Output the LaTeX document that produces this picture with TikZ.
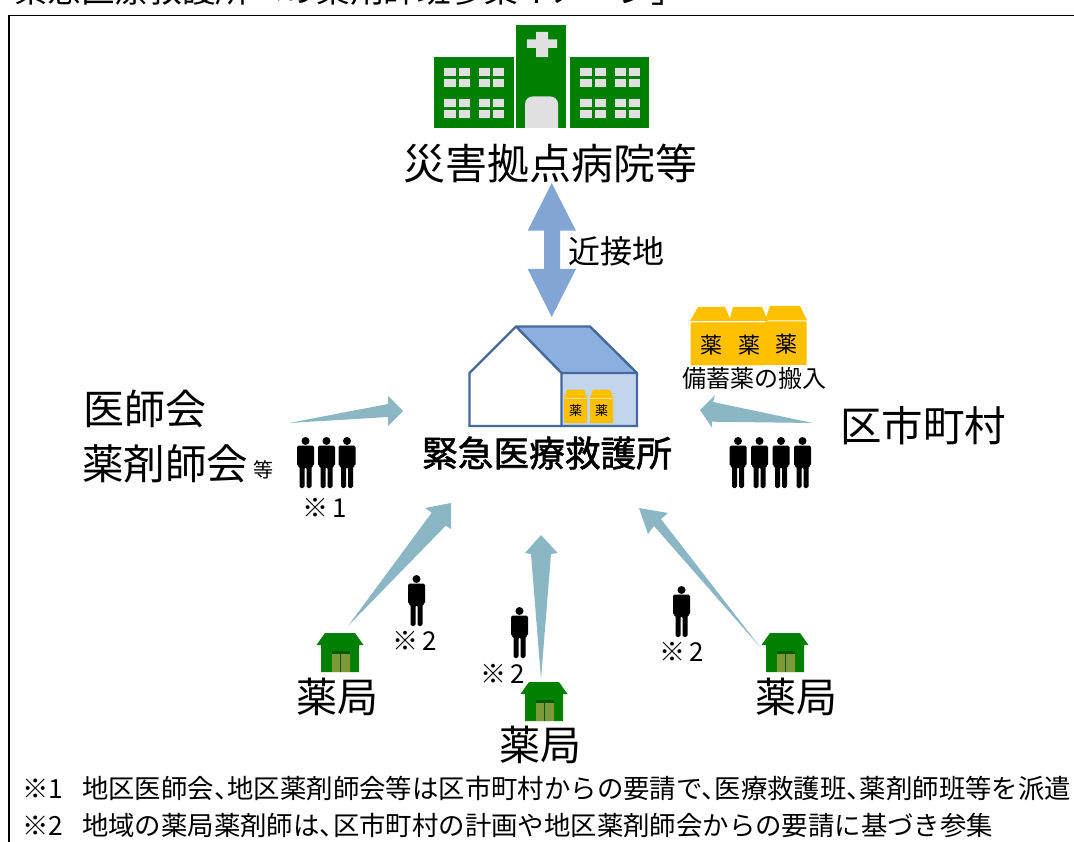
\documentclass[tikz,border=0pt]{standalone}
\usepackage{fontspec}
\setmainfont{Noto Sans CJK JP}
\newfontfamily\medfont[FakeBold=1.6]{Noto Sans CJK JP}
\newcommand{\tc}{、\kern-.5em}
\tikzset{
 lbl/.style={inner sep=0pt,text=black},
 wedge/.style={fill=wedgeblue,draw=none},
 note/.style={lbl,anchor=west,font=\fontsize{26.4}{26.4}\selectfont},
 refmark/.style={lbl,font=\fontsize{26}{26}\selectfont}
}
\definecolor{wedgeblue}{HTML}{8BB6C3}
\definecolor{hgreen}{HTML}{008000}
\definecolor{hgrey}{HTML}{E0E0E0}
\definecolor{roofblue}{HTML}{8CAFDF}
\definecolor{wallblue}{HTML}{C3D5ED}
\definecolor{edgeblue}{HTML}{45699A}
\definecolor{amber}{HTML}{FFC000}
\definecolor{door}{HTML}{7C9A3A}
\definecolor{darrow}{HTML}{83A5D4}
\newcommand{\figman}[3]{\begin{scope}[shift={(#1,#2)},scale=#3/50]
 \fill[black] (0,4) circle (4);
 \fill[black,rounded corners=1.6pt] (-8.5,8.5) -- (8.5,8.5) -- (8.5,29) -- (6,29) -- (6,51) -- (1,51) -- (1,30) -- (-1,30) -- (-1,51) -- (-6,51) -- (-6,29) -- (-8.5,29) -- cycle;
\end{scope}}
\newcommand{\pharm}[2]{\begin{scope}[shift={(#1,#2)}]
 \fill[hgreen] (-15,0) -- (15,0) -- (23.5,12) -- (19,12) -- (19,39) -- (-19,39) -- (-19,12) -- (-23.5,12) -- cycle;
 \fill[hgreen!70!black] (-8.5,18) rectangle (9.5,21);
 \fill[door] (-8.5,21) rectangle (9.5,39);
 \draw[hgreen!70!black,line width=.7pt] (0.5,21) -- (0.5,39);
\end{scope}}
\newcommand{\winblock}[2]{\begin{scope}[shift={(#1,#2)}]
 \foreach \a in {0,14.5,34.5,48.5} \foreach \b in {0,11,31,42}
 \fill[hgrey] (\a,\b) rectangle ++(11.5,8.5);
\end{scope}}
\begin{document}
\begin{tikzpicture}[x=1pt,y=-1pt]
\useasboundingbox (0,0) rectangle (1074,842);
\fill[white] (0,0) rectangle (1074,842);
\begin{scope}
\clip (0,0) rectangle (1074,10);
\node[lbl,anchor=west,font=\fontsize{33.6}{33.6}\selectfont] (title) at (14,-10) {緊急医療救護所への薬剤師班参集イメージ」};
\end{scope}
\draw[black,line width=1.5pt] (1074,15.7) -- (9,15.7) -- (9,842);
% hospital
\fill[hgreen] (434,57.5) rectangle (513.5,128);
\fill[hgreen] (516,25) rectangle (566,128);
\fill[hgreen] (569.5,57.5) rectangle (649,128);
\winblock{444}{68}
\winblock{580}{68}
\fill[hgrey] (536,32) rectangle (548,57) (527,39.5) rectangle (557,48);
\fill[hgrey] (525,128) -- (525,104) arc[start angle=180,end angle=270,radius=7.5] -- (550.5,96.5) arc[start angle=270,end angle=360,radius=7.5] -- (558,128) -- cycle;
\node[lbl,font=\fontsize{42}{42}\selectfont] (hosp) at (550,164) {災害拠点病院等};
% double arrow
\coordinate (up) at (551.7,183);
\coordinate (dn) at (551.7,317);
\fill[darrow] (up) -- (576,230.7) -- (560,230.7) -- (560,269) -- (576,269) -- (dn) -- (527.7,269) -- (544,269) -- (544,230.7) -- (527.7,230.7) -- cycle;
\node[lbl,font=\fontsize{32}{32}\selectfont] (kinsetsu) at (616,251) {近接地};
% building
\coordinate (a) at (469.5,373); \coordinate (b) at (516,326.5);
\coordinate (c) at (590,326.5); \coordinate (d) at (637,373);
\coordinate (e) at (561.5,373); \coordinate (f) at (637,426);
\coordinate (g) at (561.5,426); \coordinate (h) at (469.5,426);
\fill[white] (a)--(b)--(e)--(g)--(h)--cycle;
\fill[wallblue] (e)--(d)--(f)--(g)--cycle;
\fill[roofblue] (b)--(c)--(d)--(e)--cycle;
\draw[edgeblue,line width=2.4pt,line join=miter] (a)--(b)--(c)--(d)--(f)--(h)--cycle (b)--(e)--(g) (e)--(d);
\foreach \x/\n in {564/m1,590/m2}{
 \fill[amber] (\x,423) -- (\x,398) -- (\x+3,389.5) -- (\x+20,389.5) -- (\x+23,398) -- (\x+23,423) -- cycle;
 \draw[white,opacity=.5,line width=.5pt] (\x,398) -- (\x+23,398);
 \node[lbl,font=\fontsize{13}{13}\selectfont] (\n) at (\x+11.5,410.5) {薬};
}
\node[lbl,font=\medfont\fontsize{35.7}{35.7}\selectfont] (kinkyu) at (547,453) {緊急医療救護所};
% stock boxes
\fill[amber] (698,307) -- (725,307) -- (731,321) -- (690,321) -- cycle;
\fill[amber] (733,307) -- (762,307) -- (768,321) -- (729,321) -- cycle;
\fill[amber] (770,306) -- (800,306) -- (807,320.5) -- (765,320.5) -- cycle;
\fill[amber] (690.7,322.5) rectangle (765,365.5) (765,321.5) rectangle (806.7,365);
\node[lbl,font=\fontsize{22}{22}\selectfont] (s1) at (711,345) {薬};
\node[lbl,font=\fontsize{22}{22}\selectfont] (s2) at (749,345) {薬};
\node[lbl,font=\fontsize{22}{22}\selectfont] (s3) at (786,344) {薬};
\node[lbl,font=\fontsize{24}{24}\selectfont] (bichiku) at (754,378) {備蓄薬の搬入};
% side labels
\node[lbl,anchor=west,font=\fontsize{41}{41}\selectfont] (ishi) at (83,409) {医師会};
\node[lbl,anchor=west,font=\fontsize{41.5}{41.5}\selectfont] (yaku) at (82,464) {薬剤師会};
\node[lbl,anchor=west,font=\fontsize{20}{20}\selectfont] (nado) at (253,470) {等};
\node[lbl,anchor=west,font=\fontsize{41.5}{41.5}\selectfont] (kushi) at (840,426) {区市町村};
% wedge arrows
\fill[wedge] (289,423) -- (388,404) -- (388,396) -- (403,411) -- (388,426) -- (388,417) -- cycle;
\fill[wedge] (812.7,423) -- (713,402) -- (715,395) -- (700,410) -- (712,427.7) -- (712,421.7) -- cycle;
\fill[wedge] (348,626) -- (431.7,512.7) -- (425,508) -- (451,503) -- (451,529) -- (445.7,525.7) -- cycle;
\fill[wedge] (541,679) -- (531,554) -- (525,553) -- (541,535) -- (557.7,553) -- (551,554) -- cycle;
\fill[wedge] (760,647) -- (654,526) -- (648,534) -- (639,508) -- (668,513) -- (661,519) -- cycle;
% people
\figman{305.5}{437}{50}\figman{326.5}{437}{50}\figman{347}{437}{50}
\figman{738}{437}{50}\figman{759.5}{437}{50}\figman{781}{437}{50}\figman{802.5}{437}{50}
\figman{416.5}{575}{50}\figman{519.5}{607}{50}\figman{681.5}{586}{50}
% notes
\node[refmark] (n1) at (325,508) {※\,1};
\node[refmark] (n2) at (415,641) {※\,2};
\node[refmark] (n3) at (503,674) {※\,2};
\node[refmark] (n4) at (682,652) {※\,2};
% pharmacies
\pharm{340}{633}\pharm{544}{682}\pharm{785}{633}
\node[lbl,font=\fontsize{41}{41}\selectfont] (p1) at (337,697) {薬局};
\node[lbl,font=\fontsize{41}{41}\selectfont] (p2) at (540,745) {薬局};
\node[lbl,font=\fontsize{41}{41}\selectfont] (p3) at (796,697) {薬局};
% footnotes
\node[note] (f1) at (22,788) {\makebox[60pt][l]{※1}地区医師会\tc 地区薬剤師会等は区市町村からの要請で\tc 医療救護班\tc 薬剤師班等を派遣};
\node[note] (f2) at (22,825) {\makebox[60pt][l]{※2}地域の薬局薬剤師は\tc 区市町村の計画や地区薬剤師会からの要請に基づき参集};
\end{tikzpicture}
\end{document}
